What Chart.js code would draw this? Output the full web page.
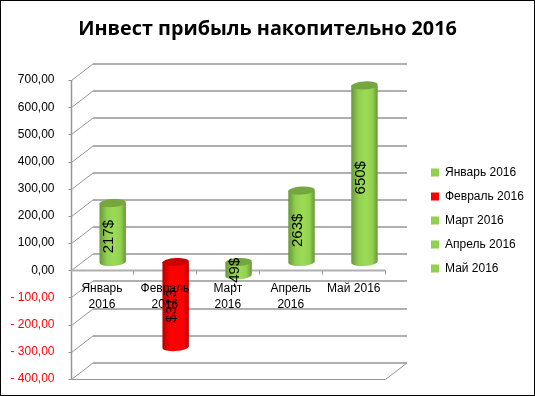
<!DOCTYPE html>
<html>
<head>
<meta charset="utf-8">
<title>Инвест прибыль накопительно 2016</title>
<script src="https://cdn.jsdelivr.net/npm/chart.js@4"></script>
<style>
    html, body { margin: 0; padding: 0; background: #fff; }
    #box { width: 535px; height: 396px; }
</style>
</head>
<body>
<div id="box"><canvas id="myChart"></canvas></div>
<script>
const titulo = 'Инвест прибыль накопительно 2016';
const meses = [['Январь', '2016'], ['Февраль', '2016'], ['Март', '2016'], ['Апрель', '2016'], ['Май 2016']];
const legenda = ['Январь 2016', 'Февраль 2016', 'Март 2016', 'Апрель 2016', 'Май 2016'];
const valores = [217, -313, -49, 263, 650];
const rotulos = ['217$', '-$313', '-49$', '263$', '650$'];
const cores = ['#92d050', '#ff0000', '#92d050', '#92d050', '#92d050'];

const titleFont = 'Open Sans';
const fonte = 'Liberation Sans';
const vermelho = '#ff0000';
// deslocamento da parede de fundo (efeito 3D)
const fundoX = 21.5;
const fundoY = 16.5;

function mistura(hex, fator) {
    const n = parseInt(hex.slice(1), 16);
    const c = [n >> 16, (n >> 8) & 255, n & 255].map(x => Math.min(255, Math.round(x * fator)));
    return 'rgb(' + c.join(',') + ')';
}

function linha(ctx, pontos, cor, largura) {
    ctx.strokeStyle = cor;
    ctx.lineWidth = largura;
    ctx.beginPath();
    pontos.forEach((p, i) => i ? ctx.lineTo(p[0], p[1]) : ctx.moveTo(p[0], p[1]));
    ctx.stroke();
}

// paredes e linhas de grade em perspectiva
const paredes = {
    id: 'paredes',
    beforeDatasetsDraw(chart) {
        const { ctx, scales: { x, y } } = chart;
        const esq = Math.round(x.left) + 0.5;
        const dir = Math.round(x.right) + 0.5;
        ctx.save();
        y.ticks.forEach(t => {
            const py = Math.round(y.getPixelForValue(t.value)) + 0.5;
            linha(ctx, [[esq + fundoX, py - fundoY], [dir + fundoX, py - fundoY]], '#b0b0b0', 2);
            linha(ctx, [[esq - 3, py], [esq, py], [esq + fundoX, py - fundoY]], '#969696', 1);
        });
        const chao = Math.round(y.bottom) + 0.5;
        linha(ctx, [[esq, Math.round(y.top)], [esq, chao]], '#969696', 1.5);
        linha(ctx, [[esq, chao], [dir, chao], [dir + fundoX, chao - fundoY]], '#969696', 1);

        const zero = Math.round(y.getPixelForValue(0)) + 0.5;
        const passo = x.getPixelForValue(1) - x.getPixelForValue(0);
        meses.forEach((m, i) => {
            const px = Math.round(x.getPixelForValue(i) + passo / 2) + 0.5;
            linha(ctx, [[px, zero], [px, zero + 4]], '#969696', 1);
        });
        linha(ctx, [[esq, zero], [dir, zero]], '#b0b0b0', 2);
        ctx.restore();
    }
};

// cilindros desenhados sobre as barras do próprio chart
const cilindros = {
    id: 'cilindros',
    afterDatasetsDraw(chart) {
        const { ctx } = chart;
        const barras = chart.getDatasetMeta(0).data;
        const ry = 4;
        barras.forEach((b, i) => {
            const cor = cores[i];
            const meia = b.width / 2;
            const cx = b.x + fundoX / 2;
            const topo = b.y - fundoY / 2;
            const base = b.base - fundoY / 2;
            const alto = Math.min(topo, base);
            const baixo = Math.max(topo, base);

            const grad = ctx.createLinearGradient(cx - meia, 0, cx + meia, 0);
            grad.addColorStop(0, mistura(cor, 0.72));
            grad.addColorStop(0.28, mistura(cor, 1));
            grad.addColorStop(0.55, mistura(cor, 1.06));
            grad.addColorStop(0.8, mistura(cor, 1));
            grad.addColorStop(1, mistura(cor, 0.72));

            ctx.save();
            ctx.fillStyle = grad;
            ctx.beginPath();
            ctx.moveTo(cx - meia, alto);
            ctx.lineTo(cx - meia, baixo);
            ctx.ellipse(cx, baixo, meia, ry, -0.06, Math.PI, 0, true);
            ctx.lineTo(cx + meia, alto);
            ctx.closePath();
            ctx.fill();
            ctx.fillStyle = mistura(cor, 0.8);
            ctx.beginPath();
            ctx.ellipse(cx, alto, meia, ry, -0.06, 0, Math.PI * 2);
            ctx.fill();

            // rótulo girado
            ctx.translate(cx - 3.5, (alto + baixo) / 2 + 4);
            ctx.rotate(-Math.PI / 2);
            ctx.fillStyle = '#000';
            ctx.font = '15px "' + fonte + '"';
            ctx.textAlign = 'center';
            ctx.textBaseline = 'middle';
            ctx.fillText(rotulos[i], 0, 0);
            ctx.restore();
        });
    }
};

// moldura preta, título centrado na página e posição final da legenda
const moldura = {
    id: 'moldura',
    afterLayout(chart) {
        const leg = chart.legend;
        const larg = leg.right - leg.left;
        const alt = leg.bottom - leg.top;
        leg.left = 419;
        leg.right = leg.left + larg;
        leg.top = 220.5 - alt / 2;
        leg.bottom = leg.top + alt;
        chart.titleBlock.left = 0;
        chart.titleBlock.right = chart.width;
    },
    beforeDraw(chart) {
        const { ctx, width, height } = chart;
        ctx.save();
        ctx.fillStyle = '#fff';
        ctx.fillRect(0, 0, width, height);
        ctx.strokeStyle = '#000';
        ctx.lineWidth = 1;
        ctx.strokeRect(0.5, 0.5, width - 1, height - 1);
        ctx.restore();
    }
};

const ctx = document.getElementById('myChart');
new Chart(ctx, {
    type: 'bar',
    data: {
        labels: meses,
        datasets: [{
            label: titulo,
            data: valores,
            backgroundColor: 'rgba(0,0,0,0)',
            borderWidth: 0,
            barPercentage: 0.84,
            categoryPercentage: 0.5
        }]
    },
    options: {
        responsive: true,
        maintainAspectRatio: false,
        animation: false,
        layout: { padding: { left: 0, right: 35, top: 0, bottom: 17 } },
        scales: {
            x: {
                position: { y: 0 },
                grid: { display: false, drawTicks: false },
                border: { display: false },
                ticks: {
                    color: '#000',
                    font: { family: fonte, size: 12, lineHeight: 1.33 },
                    maxRotation: 0,
                    autoSkip: false,
                    padding: 10,
                    z: 1
                }
            },
            y: {
                min: -400,
                max: 700,
                grid: { display: false },
                border: { display: false },
                afterFit(scale) { scale.width = 70.5; },
                ticks: {
                    stepSize: 100,
                    padding: 8,
                    font: { family: fonte, size: 12 },
                    color: c => c.tick.value < 0 ? vermelho : '#000',
                    callback: v => (v < 0 ? '- ' : '') + Math.abs(v).toFixed(2).replace('.', ',')
                }
            }
        },
        plugins: {
            title: {
                display: true,
                text: titulo,
                color: '#000',
                font: { family: titleFont, size: 19.8, weight: 'bold' },
                padding: { top: 17, bottom: 39.3 }
            },
            tooltip: { enabled: false },
            legend: {
                position: 'right',
                labels: {
                    boxWidth: 8,
                    boxHeight: 8,
                    padding: 12,
                    color: '#000',
                    font: { family: fonte, size: 12 },
                    generateLabels: () => legenda.map((t, i) => ({
                        text: t,
                        fillStyle: cores[i],
                        strokeStyle: cores[i],
                        lineWidth: 0,
                        index: i
                    }))
                }
            }
        }
    },
    plugins: [moldura, paredes, cilindros]
});
</script>
</body>
</html>
